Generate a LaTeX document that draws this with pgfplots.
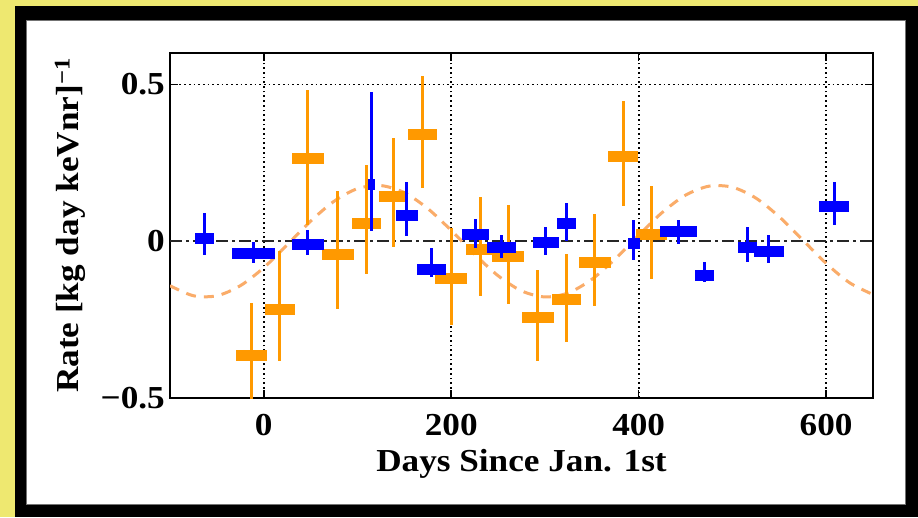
\documentclass[border=0pt]{standalone}
\usepackage{pgfplots}
\usepackage{pgfplotstable}
\pgfplotsset{compat=1.18}
\usepackage{fontspec}
\setmainfont{Liberation Serif}[FakeStretch=1.1]
\definecolor{bgyellow}{RGB}{238,232,112}
\definecolor{myblue}{RGB}{0,0,255}
\definecolor{myorange}{RGB}{255,153,0}
\definecolor{curveorange}{RGB}{250,172,105}

\pgfplotstableread{
x xe y ep em
-63 10 0.009 0.081 0.054
-10.5 23 -0.039 0.036 0.030
47 17 -0.012 0.049 0.033
115 4 0.180 0.295 0.148
152.7 12 0.082 0.108 0.066
178.6 15.5 -0.090 0.067 0.024
226 14 0.021 0.051 0.042
253.5 15.5 -0.021 0.042 0.032
301 14 -0.003 0.049 0.042
323 10 0.057 0.065 0.055
395 6 -0.007 0.076 0.053
442.7 20 0.030 0.039 0.040
470 10 -0.108 0.042 0.022
516.5 10 -0.021 0.066 0.045
539 16 -0.032 0.051 0.039
608.4 15.5 0.111 0.079 0.060
}\bluedata

\pgfplotstableread{
x xe y ep em
-13 17 -0.363 0.167 0.145
17 16 -0.217 0.185 0.164
47 17 0.263 0.219 0.210
79 17 -0.042 0.201 0.175
109.6 15.5 0.056 0.188 0.162
138.7 15.5 0.143 0.185 0.161
169.6 15.5 0.339 0.187 0.169
200 17 -0.120 0.163 0.148
230.8 15.5 -0.026 0.166 0.149
261 17 -0.050 0.164 0.149
292.3 17 -0.243 0.151 0.138
323 15.5 -0.187 0.147 0.133
353 17 -0.069 0.157 0.139
383.3 16 0.270 0.178 0.159
414 16.6 0.021 0.154 0.143
}\orangedata

\begin{document}
\begin{tikzpicture}[x=1pt,y=1pt]
\fill[bgyellow] (0,0) rectangle (918,517);
\fill[black] (15,0) rectangle (918,511);
\fill[white] (26,13) rectangle (905,496);
\draw[black!55, line width=1pt] (26,13) rectangle (905,496);
\useasboundingbox (0,0) rectangle (918,517);
\begin{axis}[
  at={(170pt,119pt)}, anchor=south west,
  scale only axis, width=703pt, height=345pt,
  xmin=-100, xmax=650, ymin=-0.5, ymax=0.6,
  xtick={0,200,400,600}, xticklabels={0,200,400,600},
  ytick={-0.5,0,0.5}, yticklabels={−0.5,0,0.5},
  tick align=inside,
  major tick length=8pt,
  minor tick num=0,
  axis line style={line width=1.6pt, black},
  every tick/.style={line width=1.6pt, black},
  xmajorgrids,
  major grid style={black, line width=1.7pt, dash pattern=on 1.7pt off 3pt},
  every tick label/.append style={font=\bfseries\fontsize{32}{38}\selectfont},
  xticklabel style={inner sep=0pt, anchor=north, yshift=-16pt},
  yticklabel style={inner sep=0pt, anchor=east, xshift=-5pt},
  xlabel={Days Since Jan. 1st},
  xlabel style={font=\bfseries\fontsize{32}{38}\selectfont, inner sep=0pt, anchor=base, at={(axis description cs:0.5,-0.212)}},
  ylabel={Rate [kg day keVnr]\textsuperscript{−1}},
  ylabel style={font=\bfseries\fontsize{32}{38}\selectfont, inner sep=0pt, anchor=center, rotate=0, at={(axis description cs:-0.142,0.5)}},
]
% reference lines
\addplot[black, line width=1.7pt, dash pattern=on 1.7pt off 3pt] coordinates {(-100,0.5) (650,0.5)};
\addplot[black!85, line width=2.2pt, dash pattern=on 12pt off 4pt on 3pt off 4pt] coordinates {(-100,0) (650,0)};
% modulation curve
\addplot[curveorange, line width=3pt, dash pattern=on 10pt off 8pt, smooth] coordinates {
(-100,-0.142) (-75,-0.174) (-50,-0.174) (-25,-0.142) (0,-0.0846) (25,-0.0115)
(50,0.0637) (75,0.1272) (100,0.1676) (125,0.1773) (150,0.1548) (175,0.1040)
(200,0.0343) (225,-0.0417) (250,-0.1101) (275,-0.1584) (300,-0.1778) (325,-0.1648)
(350,-0.1217) (375,-0.0565) (400,0.0191) (425,0.0912) (450,0.1467) (475,0.1754)
(500,0.1721) (525,0.1375) (550,0.0777) (575,0.0038) (600,-0.0708) (625,-0.1325) (650,-0.1700)
};
% orange data
\addplot[myorange, only marks, mark=none, error bars/.cd, y dir=both, y explicit,
  error mark=none, error bar style={line width=3pt, myorange}]
  table[x=x, y=y, y error plus=ep, y error minus=em] {\orangedata};
\addplot[myorange, only marks, mark=none, error bars/.cd, x dir=both, x explicit,
  error mark=none, error bar style={line width=11pt, myorange}]
  table[x=x, y=y, x error=xe] {\orangedata};
% blue data
\addplot[myblue, only marks, mark=none, error bars/.cd, y dir=both, y explicit,
  error mark=none, error bar style={line width=3pt, myblue}]
  table[x=x, y=y, y error plus=ep, y error minus=em] {\bluedata};
\addplot[myblue, only marks, mark=none, error bars/.cd, x dir=both, x explicit,
  error mark=none, error bar style={line width=11pt, myblue}]
  table[x=x, y=y, x error=xe] {\bluedata};
\end{axis}
\end{tikzpicture}
\end{document}
